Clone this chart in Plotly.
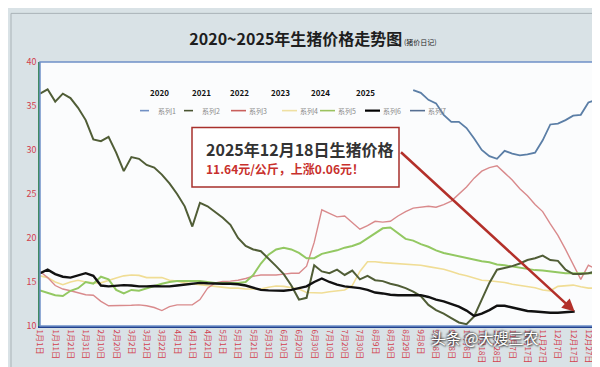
import plotly.graph_objects as go

# ---------------- data ----------------
DAYS = list(range(0, 366, 5))  # day-of-year index (0 = 1月1日)

TICK_DAYS = list(range(0, 361, 10))
TICK_LABELS = ["1月1日", "1月11日", "1月21日", "1月31日", "2月10日", "2月20日", "3月2日",
               "3月12日", "3月22日", "4月1日", "4月11日", "4月21日", "5月1日", "5月11日",
               "5月21日", "5月31日", "6月10日", "6月20日", "6月30日", "7月10日", "7月20日",
               "7月30日", "8月9日", "8月19日", "8月29日", "9月8日", "9月18日", "9月28日",
               "10月8日", "10月18日", "10月28日", "11月7日", "11月17日", "11月27日",
               "12月7日", "12月17日", "12月27日"]

YEARS = ["2020", "2021", "2022", "2023", "2024", "2025"]
SERIES_NAMES = ["系列1", "系列2", "系列3", "系列4", "系列5", "系列6", "系列7"]

# 2020 (only shown from late August)
DAYS_2020 = list(range(245, 366, 5))
P2020 = [36.8, 36.5, 35.7, 35.3, 34.0, 33.2, 33.2, 32.5, 31.3, 30.0,
         29.3, 29.0, 29.9, 29.6, 29.4, 29.5, 29.7, 31.1, 32.9, 33.0,
         33.4, 33.9, 34.0, 35.4, 35.7]

P2021 = [36.4, 36.9, 35.5, 36.4, 35.9, 34.8, 33.4, 31.2, 31.0, 31.5,
         29.7, 27.6, 29.2, 29.0, 28.3, 28.0, 27.2, 26.2, 25.0, 23.6,
         21.3, 24.0, 23.6, 23.0, 22.3, 21.5, 20.0, 19.1, 18.7, 18.5,
         17.7, 16.8, 15.9, 14.6, 13.0, 13.2, 16.9, 16.2, 16.0, 16.4,
         15.8, 16.3, 15.3, 15.7, 15.2, 15.1, 14.8, 14.6, 14.3, 13.9,
         13.4, 12.4, 11.8, 11.4, 10.9, 10.4, 10.2, 11.1, 13.0, 14.9,
         16.4, 16.6, 16.8, 17.1, 17.5, 17.7, 18.0, 17.5, 17.4, 16.4,
         15.9, 15.9, 16.0, 16.2]

P2022 = [16.2, 15.5, 14.6, 14.2, 14.0, 13.75, 13.55, 13.5, 12.8, 12.3,
         12.3, 12.3, 12.35, 12.4, 12.3, 12.1, 11.75, 12.2, 12.4, 12.4,
         12.4, 13.0, 14.3, 14.9, 15.05, 15.1, 15.2, 15.4, 15.65, 15.8,
         15.8, 15.8, 15.9, 16.0, 16.0, 16.8, 19.5, 23.2, 22.8, 22.4,
         22.5, 21.8, 21.0, 21.4, 21.9, 21.8, 21.9, 22.5, 23.0, 23.4,
         23.5, 23.6, 23.5, 23.8, 24.2, 25.0, 25.8, 26.8, 27.6, 28.0,
         28.2, 27.4, 26.6, 25.6, 24.8, 23.8, 23.0, 21.6, 20.3, 18.7,
         17.0, 15.3, 16.9, 16.5]

P2023 = [15.7, 15.5, 15.0, 14.7, 15.0, 15.2, 15.0, 14.9, 14.9, 15.2,
         15.45, 15.7, 15.8, 15.75, 15.5, 15.5, 15.5, 15.2, 15.1, 14.9,
         14.8, 14.7, 14.6, 14.55, 14.45, 14.3, 14.3, 14.2, 14.2, 14.2,
         14.4, 14.55, 14.5, 14.35, 14.2, 13.8, 13.75, 13.75, 13.9, 14.0,
         14.1, 14.6, 16.2, 17.3, 17.3, 17.2, 17.15, 17.1, 17.05, 16.95,
         16.9, 16.75, 16.6, 16.45, 16.2, 15.9, 15.7, 15.45, 15.2, 15.15,
         15.05, 14.95, 14.75, 14.6, 14.45, 14.35, 14.1, 14.0, 14.5, 14.6,
         14.65, 14.45, 14.3, 14.3]

P2024 = [14.05, 13.75, 13.5, 13.4, 14.0, 14.3, 15.0, 14.8, 15.6, 15.3,
         14.1, 13.7, 14.1, 14.0, 14.3, 14.55, 14.8, 15.0, 15.1, 15.1,
         15.1, 15.1, 15.0, 14.9, 14.9, 14.9, 14.9, 15.0, 15.8, 17.1,
         18.1, 18.7, 18.9, 18.7, 18.3, 17.7, 17.7, 18.2, 18.4, 18.6,
         18.9, 19.1, 19.4, 20.0, 20.6, 21.1, 21.2, 20.6, 19.9, 19.7,
         19.3, 19.0, 18.6, 18.3, 18.1, 17.9, 17.7, 17.55, 17.35, 17.25,
         17.0, 16.9, 16.75, 16.6, 16.5, 16.35, 16.3, 16.2, 16.1, 16.0,
         16.0, 16.0, 16.0, 16.0]

# 2025 up to 12月18日
DAYS_2025 = list(range(0, 350, 5)) + [351]
P2025 = [16.0, 16.4, 15.9, 15.6, 15.5, 15.75, 16.0, 15.7, 14.6, 14.5,
         14.6, 14.65, 14.6, 14.5, 14.5, 14.55, 14.5, 14.5, 14.6, 14.7,
         14.85, 14.9, 14.85, 14.8, 14.8, 14.8, 14.75, 14.6, 14.35, 14.1,
         14.05, 14.0, 14.0, 14.1, 14.3, 14.5, 15.0, 15.4, 15.0, 14.7,
         14.5, 14.4, 14.3, 14.1, 13.8, 13.7, 13.55, 13.5, 13.5, 13.45,
         13.5, 13.3, 13.0, 12.8, 12.5, 12.2, 11.75, 11.15, 11.4, 11.8,
         12.3, 12.3, 12.1, 11.9, 11.7, 11.65, 11.55, 11.5, 11.5, 11.55,
         11.64]

LAST_DAY = 351
LAST_PRICE = 11.64

# ---------------- figure ----------------
W, H = 600, 367
ML, MR, MT, MB = 32, 12, 54, 47
PW, PH = W - ML - MR, H - MT - MB


def px_x(px):
    return (px - ML) / PW


def px_y(py):
    return (H - MB - py) / PH


FONT = "Noto Sans CJK SC, Noto Sans, sans-serif"

fig = go.Figure()

line_specs = [
    (DAYS_2020, P2020, "#5b7ea6", 1.8),
    (DAYS, P2023, "#f0dd95", 1.6),
    (DAYS, P2022, "#d98a8c", 1.4),
    (DAYS, P2024, "#93c862", 2.0),
    (DAYS, P2021, "#505d36", 2.0),
    (DAYS_2025, P2025, "#111111", 2.4),
]
for xs, ys, col, wid in line_specs:
    fig.add_trace(go.Scatter(x=xs, y=ys, mode="lines", showlegend=False,
                             line=dict(color=col, width=wid), hoverinfo="skip"))

annotations = []
shapes = []

# hand-placed legend (style of the original chart)
legend_specs = [
    ("#7190c4", "dash", 132), ("#4a5532", "dash", 176), ("#c9605c", "solid", 223),
    ("#efe0a2", "solid", 274), ("#9bc25f", "solid", 312), ("#000000", "solid", 357),
    ("#566f92", "solid", 402),
]
for name, (col, dash, x0) in zip(SERIES_NAMES, legend_specs):
    shapes.append(dict(type="line", xref="paper", yref="paper",
                       x0=px_x(x0), x1=px_x(x0 + 15), y0=px_y(103), y1=px_y(103),
                       line=dict(color=col, width=1.6 if col != "#000000" else 2.2, dash=dash)))
    annotations.append(dict(text=name, xref="paper", yref="paper", x=px_x(x0 + 16),
                            y=px_y(103), xanchor="left", yanchor="middle", showarrow=False,
                            font=dict(size=7, color="#8a8a8a", family=FONT)))

# year labels
year_px = [140, 182, 231, 272, 312, 357]
for yr, xp in zip(YEARS, year_px):
    annotations.append(dict(text="<b>" + yr + "</b>", xref="paper", yref="paper",
                            x=px_x(xp), y=px_y(77), showarrow=False,
                            font=dict(size=8, color="#111", family=FONT)))

# text box
annotations.append(dict(
    text=("<b><span style='font-size:16px;color:#333333'>2025年12月18日生猪价格</span></b><br>"
          "<b><span style='font-size:12px;color:#c8302c'>" + f"{LAST_PRICE:.2f}" +
          "元/公斤，上涨0.06元！</span></b>"),
    xref="paper", yref="paper", x=px_x(196), y=px_y(150), xanchor="left", yanchor="middle",
    align="left", showarrow=False, font=dict(size=14, family=FONT)))

# arrow to last point
annotations.append(dict(
    x=LAST_DAY, y=LAST_PRICE, xref="x", yref="y",
    ax=236, ay=29.9, axref="x", ayref="y",
    text="", showarrow=True, arrowhead=2, arrowsize=1, arrowwidth=2.5,
    arrowcolor="#b3302a"))

# watermark
annotations.append(dict(
    text="头条 @大嫂三农", xref="paper", yref="paper", x=px_x(533), y=px_y(344),
    showarrow=False, font=dict(size=15, color="#ffffff", family=FONT,
                               shadow="1px 1px 2px #222, -1px -1px 2px #444")))

shapes += [
    # outer frame
    dict(type="rect", xref="paper", yref="paper", x0=px_x(3), x1=px_x(597),
         y0=px_y(363), y1=px_y(5), line=dict(color="#a9b2b6", width=1), layer="below"),
    # plot border (top / right)
    dict(type="rect", xref="paper", yref="paper", x0=0, x1=1, y0=0, y1=1,
         line=dict(color="#6f90c8", width=1.5)),
    dict(type="line", xref="paper", yref="paper", x0=1.002, x1=1.002, y0=0, y1=1,
         line=dict(color="#8aa6d6", width=3)),
    # callout box
    dict(type="rect", xref="paper", yref="paper", x0=px_x(184), x1=px_x(391),
         y0=px_y(180), y1=px_y(120), line=dict(color="#a8302c", width=1.5),
         fillcolor="rgba(255,255,255,0.9)"),
]

fig.update_layout(
    width=W, height=H,
    margin=dict(l=ML, r=MR, t=MT, b=MB),
    paper_bgcolor="#d9e2e6",
    plot_bgcolor="#fbfcfd",
    font=dict(family=FONT),
    title=dict(text="<b>2020~2025年生猪价格走势图</b><span style='font-size:7px'> (猪价日记)</span>",
               x=305 / W, xanchor="center", y=1 - 31 / H, yanchor="middle",
               font=dict(size=16, color="#1e1e1e", family=FONT)),
    showlegend=False,
    xaxis=dict(range=[0, 365], tickmode="array", tickvals=TICK_DAYS, ticktext=TICK_LABELS,
               tickangle=90, tickfont=dict(size=8, color="#d2404e", family=FONT),
               showgrid=False, zeroline=False, showline=True, linecolor="#22418f",
               linewidth=2, ticks=""),
    yaxis=dict(range=[10, 40], tickmode="array", tickvals=[10, 15, 20, 25, 30, 35, 40],
               tickfont=dict(size=9, color="#d2404e", family=FONT),
               showgrid=False, zeroline=False, showline=True, linecolor="#3f8a62",
               linewidth=1.5, ticks=""),
    annotations=annotations,
    shapes=shapes,
)

fig.write_html("out.html")
